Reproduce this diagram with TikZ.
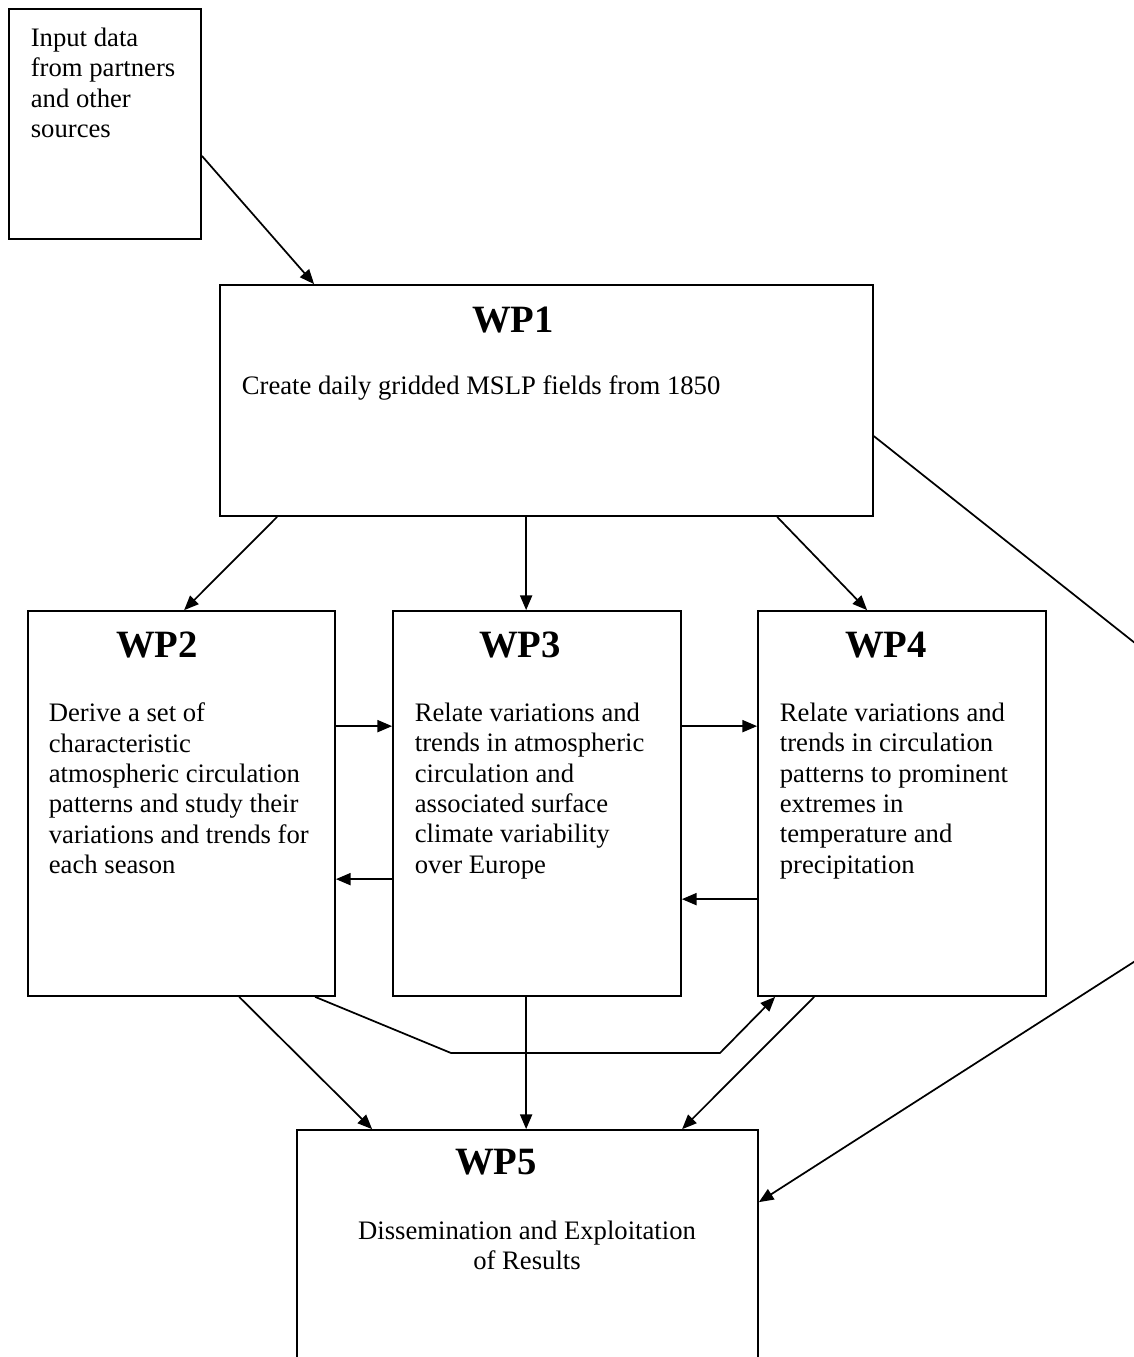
\documentclass[tikz,border=0pt]{standalone}
\usepackage{fontspec}
\setmainfont{Liberation Serif}
\usepackage{tikz}
\usetikzlibrary{arrows.meta, positioning, calc}

\begin{document}
\begin{tikzpicture}[>={Triangle[length=11pt,width=9pt]}, x=0.75pt, y=-0.75pt, line width=1.3pt,
    every node/.style={align=left, inner sep=0pt},
    wpbox/.style={draw, rectangle, inner sep=0pt},
    wptitle/.style={font=\fontsize{29}{33}\selectfont\bfseries, anchor=base},
    wptext/.style={font=\fontsize{20}{22.8}\selectfont, anchor=north west}]
      \useasboundingbox (0,0) rectangle (1134,1357);
      \clip (0,0) rectangle (1134,1357);
      % boxes
      \node[wpbox, minimum width={192*0.75pt}, minimum height={230*0.75pt}] (inp) at (105,124) {};
      \node[wpbox, minimum width={653*0.75pt}, minimum height={231*0.75pt}] (wp1) at (546.5,400.5) {};
      \node[wpbox, minimum width={307*0.75pt}, minimum height={385*0.75pt}] (wp2) at (181.5,803.5) {};
      \node[wpbox, minimum width={288*0.75pt}, minimum height={385*0.75pt}] (wp3) at (537,803.5) {};
      \node[wpbox, minimum width={288*0.75pt}, minimum height={385*0.75pt}] (wp4) at (902,803.5) {};
      \node[wpbox, minimum width={461*0.75pt}, minimum height={270*0.75pt}] (wp5) at (527.5,1265) {};
      % texts
      \node[wptext] (inptext) at (30,27) {Input data\\from partners\\and other\\sources};
      \node[wptitle] (wp1title) at (513,332) {WP1};
      \node[wptext] (wp1text) at (241,375) {Create daily gridded MSLP fields from 1850};
      \node[wptitle] (wp2title) at (157,657) {WP2};
      \node[wptext] (wp2text) at (48,702) {Derive a set of\\characteristic\\atmospheric circulation\\patterns and study their\\variations and trends for\\each season};
      \node[wptitle] (wp3title) at (520,657) {WP3};
      \node[wptext] (wp3text) at (414,702) {Relate variations and\\trends in atmospheric\\circulation and\\associated surface\\climate variability\\over Europe};
      \node[wptitle] (wp4title) at (886,657) {WP4};
      \node[wptext] (wp4text) at (779,702) {Relate variations and\\trends in circulation\\patterns to prominent\\extremes in\\temperature and\\precipitation};
      \node[wptitle] (wp5title) at (496,1174) {WP5};
      \node[wptext, anchor=north, align=center] (wp5text) at (527,1220) {Dissemination and Exploitation\\of Results};
      % bend points
      \coordinate (offpage) at (1357,819);
      \coordinate (kinkA) at (451,1053);
      \coordinate (kinkB) at (720,1053);
      % connectors
      \draw[->] ($(inp.south east)+(0,-84)$) -- ($(wp1.north west)+(95,0)$);
      \draw[->] ($(wp1.south west)+(58,0)$) -- ($(wp2.north west)+(157,0)$);
      \draw[->] ($(wp1.south west)+(307,0)$) -- ($(wp3.north west)+(134,0)$);
      \draw[->] ($(wp1.south west)+(558,0)$) -- ($(wp4.north west)+(110,0)$);
      \draw[->] ($(wp1.north east)+(0,152)$) -- (offpage) -- ($(wp5.north east)+(0,73)$);
      \draw[->] ($(wp2.north east)+(0,116)$) -- ($(wp3.north west)+(0,116)$);
      \draw[->] ($(wp3.north west)+(0,269)$) -- ($(wp2.north east)+(0,269)$);
      \draw[->] ($(wp3.north east)+(0,116)$) -- ($(wp4.north west)+(0,116)$);
      \draw[->] ($(wp4.north west)+(0,289)$) -- ($(wp3.north east)+(0,289)$);
      \draw[->] ($(wp2.south west)+(212,0)$) -- ($(wp5.north west)+(76,0)$);
      \draw[->] ($(wp2.south west)+(288,0)$) -- (kinkA) -- (kinkB) -- ($(wp4.south west)+(18,0)$);
      \draw[->] ($(wp3.south west)+(134,0)$) -- ($(wp5.north west)+(230,0)$);
      \draw[->] ($(wp4.south west)+(57,0)$) -- ($(wp5.north west)+(386,0)$);
    \end{tikzpicture}
\end{document}
